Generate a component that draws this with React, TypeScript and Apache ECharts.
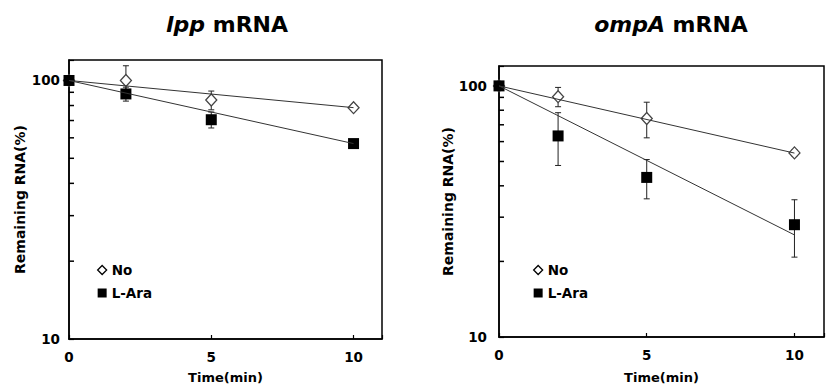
import React, { useEffect, useRef } from "react";
import * as echarts from "echarts";

const times = [0, 2, 5, 10];
const fitTimes = [0, 10];

const lppNo = [100, 100, 84, 78.5];
const lppNoErr = [0, 14, 7, 1.5];
const lppAra = [100, 88.7, 70.5, 57];
const lppAraErr = [0, 5.5, 5, 1];
const lppFitNo = [100, 78.5];
const lppFitAra = [100, 57];

const ompNo = [100, 90.6, 74.1, 54.1];
const ompNoErr = [0, 8, 12, 1.5];
const ompAra = [100, 63.2, 43.2, 28.0];
const ompAraErr = [0, 15, 7.7, 7.2];
const ompFitNo = [100, 54];
const ompFitAra = [100, 25.5];

const minorTickValues = [20, 30, 40, 50, 60, 70, 80, 90];
const xTickLabels = [0, 5, 10];
const yTickLabels = [10, 100];

const FONT = "DejaVu Sans";

function pairs(xs: number[], ys: number[]) {
  return xs.map((x, i) => [x, ys[i]]);
}
function errData(xs: number[], ys: number[], es: number[]) {
  return xs
    .map((x, i) => [x, ys[i] - es[i], ys[i] + es[i]])
    .filter((d, i) => es[i] > 0);
}

function errRender(params: any, api: any) {
  const x = api.value(0);
  const lo = api.coord([x, api.value(1)]);
  const hi = api.coord([x, api.value(2)]);
  const cap = 3;
  const style = { stroke: "#222", lineWidth: 1 };
  return {
    type: "group",
    children: [
      { type: "line", shape: { x1: lo[0], y1: lo[1], x2: hi[0], y2: hi[1] }, style },
      { type: "line", shape: { x1: lo[0] - cap, y1: lo[1], x2: lo[0] + cap, y2: lo[1] }, style },
      { type: "line", shape: { x1: hi[0] - cap, y1: hi[1], x2: hi[0] + cap, y2: hi[1] }, style },
    ],
  };
}

function panelSeries(idx: number, no: number[], noErr: number[], ara: number[], araErr: number[], fitNo: number[], fitAra: number[]) {
  const ax = { xAxisIndex: idx, yAxisIndex: idx };
  return [
    {
      type: "scatter", name: "minor" + idx, ...ax,
      data: minorTickValues.map((v) => [0, v]),
      symbol: "rect", symbolSize: [5, 1.5], symbolOffset: [2.5, 0],
      itemStyle: { color: "#000", opacity: 1 }, silent: true, z: 5,
    },
    { type: "custom", name: "errNo" + idx, ...ax, renderItem: errRender, data: errData(times, no, noErr), z: 2 },
    { type: "custom", name: "errAra" + idx, ...ax, renderItem: errRender, data: errData(times, ara, araErr), z: 2 },
    {
      type: "scatter", name: "No", ...ax, data: pairs(times, no), symbol: "diamond", symbolSize: [11, 12],
      itemStyle: { color: "#fff", borderColor: "#444", borderWidth: 1.3, opacity: 1 }, z: 3,
    },
    {
      type: "scatter", name: "L-Ara", ...ax, data: pairs(times, ara), symbol: "rect", symbolSize: 11,
      itemStyle: { color: "#000", opacity: 1 }, z: 3,
    },
    {
      type: "line", name: "fitNo" + idx, ...ax, data: pairs(fitTimes, fitNo), symbol: "none",
      lineStyle: { color: "#333", width: 1 }, z: 4,
    },
    {
      type: "line", name: "fitAra" + idx, ...ax, data: pairs(fitTimes, fitAra), symbol: "none",
      lineStyle: { color: "#333", width: 1 }, z: 4,
    },
  ];
}

function xAxis(idx: number, gap: number) {
  return {
    type: "value", gridIndex: idx, min: 0, max: 11, interval: 5,
    name: "Time(min)", nameLocation: "middle", nameGap: gap,
    nameTextStyle: { fontFamily: FONT, fontWeight: "bold", fontSize: 13, color: "#000" },
    axisLine: { lineStyle: { color: "#000", width: 1.5 } },
    axisTick: { inside: true, length: 4, lineStyle: { color: "#000", width: 1.2 } },
    splitLine: { show: false },
    axisLabel: {
      margin: 11, fontFamily: FONT, fontWeight: "bold", fontSize: 13.5, color: "#000",
      formatter: (v: number) => (xTickLabels.indexOf(v) >= 0 ? String(v) : ""),
    },
  };
}

function yAxis(idx: number, gap: number, margin: number) {
  return {
    type: "log", logBase: 10, gridIndex: idx, min: 10, max: 120,
    name: "Remaining RNA(%)", nameLocation: "middle", nameGap: gap,
    nameTextStyle: { fontFamily: FONT, fontWeight: "bold", fontSize: 14, color: "#000" },
    axisLine: { lineStyle: { color: "#000", width: 1.5 } },
    axisTick: { inside: true, length: 5, lineStyle: { color: "#000", width: 1.2 } },
    splitLine: { show: false },
    axisLabel: {
      margin, fontFamily: FONT, fontWeight: "bold", fontSize: 13.5, color: "#000",
      formatter: (v: number) => {
        const r = yTickLabels.find((t) => Math.abs(t - v) < 1e-6 * t);
        return r !== undefined ? String(r) : "";
      },
    },
  };
}

function legend(left: number) {
  return {
    left, top: 258, orient: "vertical", itemWidth: 9, itemHeight: 9, itemGap: 9,
    textStyle: { fontFamily: FONT, fontWeight: "bold", fontSize: 13.5, color: "#000" },
    data: [
      { name: "No", icon: "diamond", itemStyle: { color: "#fff", borderColor: "#000", borderWidth: 1.3, opacity: 1 } },
      { name: "L-Ara", icon: "rect", itemStyle: { color: "#000", opacity: 1 } },
    ],
    selectedMode: false,
  };
}

function title(text: string, left: number) {
  return {
    text, left, top: 8, textAlign: "center",
    textStyle: {
      fontFamily: FONT, fontWeight: "bold", fontSize: 22, color: "#000",
      rich: { i: { fontFamily: FONT, fontWeight: "bold", fontStyle: "italic", fontSize: 22, color: "#000" } },
    },
  };
}

export default function App() {
  const ref = useRef<HTMLDivElement>(null);
  useEffect(() => {
    if (!ref.current) return;
    const chart = echarts.init(ref.current, null, { renderer: "svg" });
    chart.setOption({
      animation: false,
      backgroundColor: "#fff",
      title: [title("{i|lpp} mRNA", 222), title("{i|ompA} mRNA", 666)],
      legend: [legend(92), legend(528)],
      grid: [
        { left: 69, top: 60, width: 313, height: 279, show: true, borderColor: "#000", borderWidth: 1.5, backgroundColor: "transparent" },
        { left: 499, top: 66, width: 336, height: 271, show: true, borderColor: "#000", borderWidth: 1.5, backgroundColor: "transparent" },
      ],
      xAxis: [xAxis(0, 32), xAxis(1, 34)],
      yAxis: [yAxis(0, 42, 9), yAxis(1, 43, 12)],
      series: [
        ...panelSeries(0, lppNo, lppNoErr, lppAra, lppAraErr, lppFitNo, lppFitAra),
        ...panelSeries(1, ompNo, ompNoErr, ompAra, ompAraErr, ompFitNo, ompFitAra),
      ],
    });
    return () => chart.dispose();
  }, []);
  return <div ref={ref} style={{ position: "absolute", left: 0, top: 0, width: 827, height: 390 }} />;
}
